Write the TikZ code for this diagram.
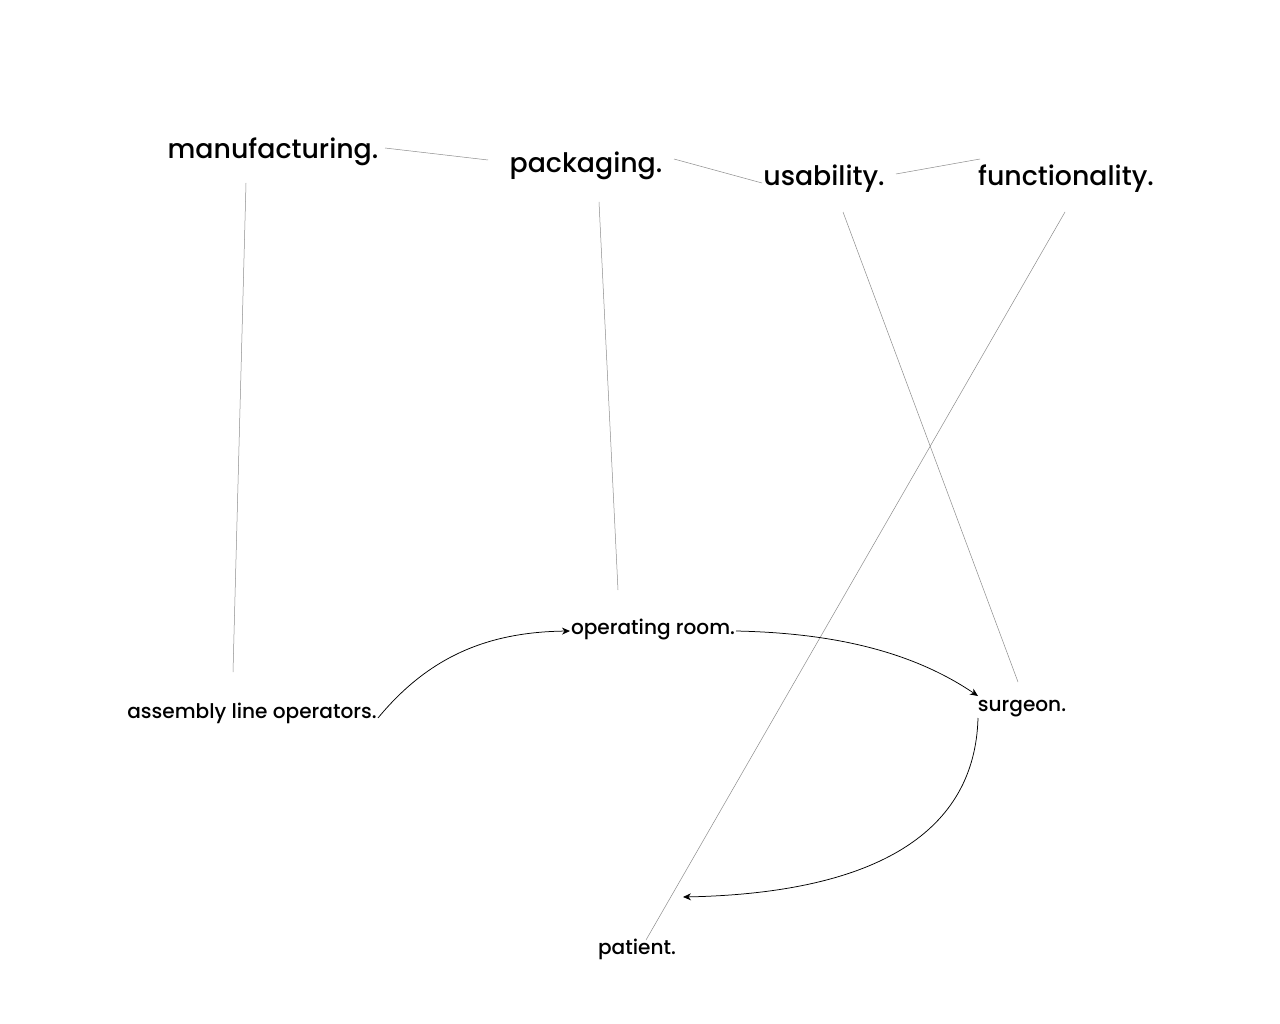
\documentclass[tikz,border=0pt]{standalone}
\usepackage{fontspec}
\setmainfont{Poppins}[UprightFont={* Medium}]
\usetikzlibrary{arrows.meta}
\begin{document}
\begin{tikzpicture}[x=1pt,y=-1pt,
  big/.style={inner sep=0pt,font=\fontsize{26.8}{30}\selectfont},
  small/.style={inner sep=0pt,font=\fontsize{20.1}{24}\selectfont},
  link/.style={draw=black!45,line width=0.5pt},
  flow/.style={draw=black,line width=0.75pt,-{Stealth[length=8pt,width=7pt]}}]
\useasboundingbox (0,0) rectangle (1280,1024);
\fill[white] (0,0) rectangle (1280,1024);
\node[big] (man) at (273,152) {manufacturing.};
\node[big] (pack) at (586,166) {packaging.};
\node[big] (use) at (824,179) {usability.};
\node[big] (func) at (1066,179) {functionality.};
\node[small] (or) at (653,629) {operating room.};
\node[small] (alo) at (252,713) {assembly line operators.};
\node[small] (surg) at (1022,709) {surgeon.};
\node[small] (pat) at (637,949) {patient.};
% coordinates
\coordinate (manR) at (385,148);
\coordinate (packL) at (488,160);
\coordinate (packR) at (674,159);
\coordinate (useL) at (762,183);
\coordinate (useR) at (896,174);
\coordinate (funcL) at (980,159);
\coordinate (manB) at (246,183);
\coordinate (aloT) at (233,672);
\coordinate (packB) at (599,202);
\coordinate (orT) at (618,590);
\coordinate (useB) at (843,212);
\coordinate (surgT) at (1018,682);
\coordinate (funcB) at (1065,212);
\coordinate (patT) at (646,940);
\coordinate (aloR) at (378,718);
\coordinate (orL) at (570,631);
\coordinate (orR) at (736,631);
\coordinate (surgL) at (978,696);
\coordinate (surgB) at (978,718);
\coordinate (patA) at (683,897);
\draw[link] (manR) -- (packL);
\draw[link] (packR) -- (useL);
\draw[link] (useR) -- (funcL);
\draw[link] (manB) -- (aloT);
\draw[link] (packB) -- (orT);
\draw[link] (useB) -- (surgT);
\draw[link] (funcB) -- (patT);
\draw[flow] (aloR) .. controls (430,655) and (490,632) .. (orL);
\draw[flow] (orR) .. controls (830,633) and (910,650) .. (surgL);
\draw[flow] (surgB) .. controls (975,830) and (880,893) .. (patA);
\end{tikzpicture}
\end{document}
